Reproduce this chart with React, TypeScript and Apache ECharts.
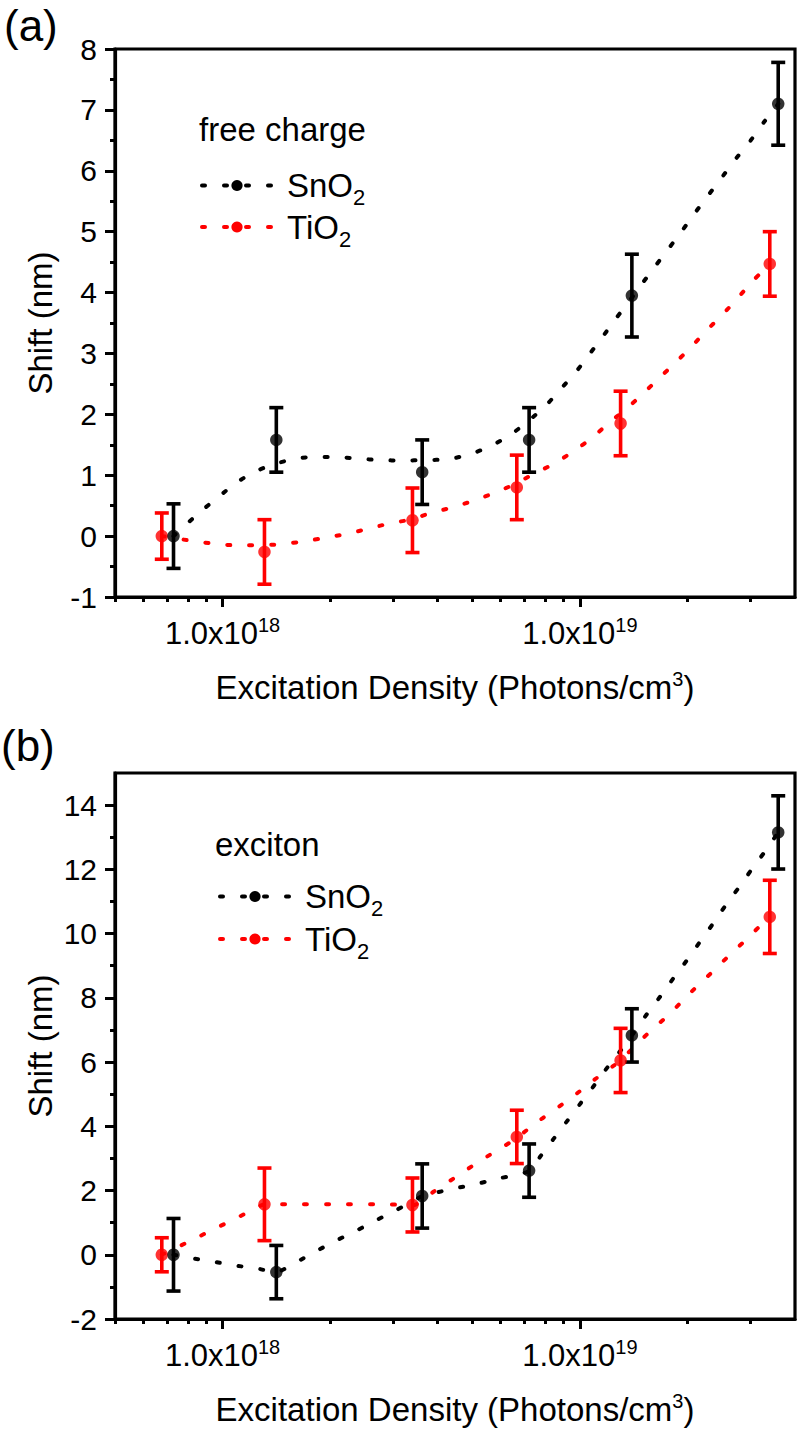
import React, { useEffect, useRef } from 'react';
import * as echarts from 'echarts';

// ---- data ----
const densitySnO2 = [7.29e17, 1.414e18, 3.62e18, 7.21e18, 1.398e19, 3.59e19];
const densityTiO2 = [6.76e17, 1.31e18, 3.4e18, 6.66e18, 1.3e19, 3.4e19];

const shiftSnO2Free = [0, 1.58, 1.05, 1.58, 3.95, 7.1];
const errSnO2Free = [0.53, 0.53, 0.53, 0.53, 0.68, 0.68];
const shiftTiO2Free = [0, -0.26, 0.26, 0.8, 1.85, 4.47];
const errTiO2Free = [0.38, 0.53, 0.53, 0.53, 0.53, 0.53];

const shiftSnO2Exc = [0, -0.54, 1.83, 2.62, 6.83, 13.15];
const errSnO2Exc = [1.13, 0.83, 1.0, 0.83, 0.83, 1.14];
const shiftTiO2Exc = [0, 1.57, 1.55, 3.67, 6.05, 10.52];
const errTiO2Exc = [0.53, 1.13, 0.84, 0.83, 1.0, 1.14];

// dotted guide curves
const curveSnO2Free = [
  [7.29e17, 0], [8.63e17, 0.39], [1.073e18, 0.84], [1.204e18, 1.03], [1.36e18, 1.16],
  [1.567e18, 1.26], [1.793e18, 1.3], [2.064e18, 1.3], [2.403e18, 1.27], [2.774e18, 1.25],
  [3.187e18, 1.24], [3.7e18, 1.25], [4.25e18, 1.26], [4.885e18, 1.34], [5.615e18, 1.475],
  [6.41e18, 1.67], [7.21e18, 1.9], [8.075e18, 2.16], [8.85e18, 2.42], [9.73e18, 2.69],
  [1.061e19, 2.98], [1.157e19, 3.27], [1.26e19, 3.57], [1.372e19, 3.85], [1.495e19, 4.15],
  [1.628e19, 4.44], [1.781e19, 4.74], [1.94e19, 5.03], [2.113e19, 5.33], [2.302e19, 5.62],
  [2.518e19, 5.92], [2.743e19, 6.21], [3.008e19, 6.5], [3.276e19, 6.8], [3.592e19, 7.1],
];
const curveTiO2Free = [
  [6.76e17, 0], [8.03e17, -0.07], [9.32e17, -0.12], [1.08e18, -0.15], [1.396e18, -0.14],
  [1.625e18, -0.1], [1.887e18, -0.04], [2.187e18, 0.03], [2.518e18, 0.11], [2.894e18, 0.2],
  [3.4e18, 0.28], [3.821e18, 0.38], [4.392e18, 0.47], [5.024e18, 0.58], [5.771e18, 0.71],
  [6.66e18, 0.87], [7.413e18, 1.02], [8.466e18, 1.19], [9.58e18, 1.39], [1.085e19, 1.62],
  [1.2e19, 1.85], [1.349e19, 2.09], [1.508e19, 2.35], [1.67e19, 2.6], [1.859e19, 2.86],
  [2.051e19, 3.11], [2.273e19, 3.39], [2.518e19, 3.65], [2.774e19, 3.92], [3.059e19, 4.2],
  [3.398e19, 4.47],
];
const curveSnO2Exc = [
  [7.29e17, 0], [8.11e17, -0.1], [9.32e17, -0.2], [1.071e18, -0.33], [1.23e18, -0.41],
  [1.408e18, -0.54], [1.608e18, -0.23], [1.827e18, 0.11], [2.078e18, 0.44], [2.377e18, 0.76],
  [2.685e18, 1.07], [3.053e18, 1.38], [3.623e18, 1.83], [3.904e18, 1.92], [4.486e18, 2.07],
  [5.209e18, 2.22], [5.961e18, 2.38], [7.256e18, 2.62], [7.738e18, 3.05], [8.43e18, 3.6],
  [9.22e18, 4.17], [1.005e19, 4.72], [1.096e19, 5.27], [1.195e19, 5.84], [1.307e19, 6.39],
  [1.399e19, 6.83], [1.544e19, 7.51], [1.678e19, 8.04], [1.827e19, 8.61], [1.99e19, 9.16],
  [2.16e19, 9.72], [2.352e19, 10.29], [2.551e19, 10.86], [2.778e19, 11.42], [3.027e19, 12.0],
  [3.297e19, 12.56], [3.592e19, 13.15],
];
const curveTiO2Exc = [
  [6.76e17, 0], [8.36e17, 0.5], [9.5e17, 0.81], [1.08e18, 1.11], [1.228e18, 1.43],
  [1.311e18, 1.57], [1.573e18, 1.57], [2.101e18, 1.57], [2.774e18, 1.57], [3.42e18, 1.55],
  [3.904e18, 1.97], [4.438e18, 2.38], [4.992e18, 2.76], [5.615e18, 3.12], [6.383e18, 3.5],
  [6.707e18, 3.67], [7.787e18, 4.22], [8.74e18, 4.61], [9.83e18, 5.03], [1.101e19, 5.46],
  [1.238e19, 5.87], [1.301e19, 6.05], [1.408e19, 6.44], [1.567e19, 6.94], [1.744e19, 7.4],
  [1.932e19, 7.89], [2.136e19, 8.38], [2.377e19, 8.86], [2.634e19, 9.35], [2.924e19, 9.82],
  [3.241e19, 10.31], [3.398e19, 10.52],
];

// ---- axes ticks ----
const xMin = 5e17;
const xMax = 4e19;
const xMajorTicks = [1e18, 1e19];
const xMinorTicks = [
  5e17, 6e17, 7e17, 8e17, 9e17,
  2e18, 3e18, 4e18, 5e18, 6e18, 7e18, 8e18, 9e18,
  2e19, 3e19, 4e19,
];
const yMajorFree = [-1, 0, 1, 2, 3, 4, 5, 6, 7, 8];
const yMinorFree = [-0.5, 0.5, 1.5, 2.5, 3.5, 4.5, 5.5, 6.5, 7.5];
const yMajorExc = [-2, 0, 2, 4, 6, 8, 10, 12, 14];
const yMinorExc = [-1, 1, 3, 5, 7, 9, 11, 13];

const FONT = '"Liberation Sans", Arial, Helvetica, sans-serif';
const BLACK = '#000000';
const RED = '#ff0000';

function pairs(xs: number[], ys: number[]) {
  return xs.map((x, i) => [x, ys[i]]);
}

function errorBars(name: string, xs: number[], ys: number[], errs: number[], color: string, axis: number) {
  return {
    type: 'custom',
    name,
    xAxisIndex: axis,
    yAxisIndex: axis,
    z: 3,
    silent: true,
    data: xs.map((x, i) => [x, ys[i] - errs[i], ys[i] + errs[i]]),
    encode: { x: 0, y: [1, 2] },
    renderItem: (params: any, api: any) => {
      const x = api.value(0);
      const lo = api.coord([x, api.value(1)]);
      const hi = api.coord([x, api.value(2)]);
      const hw = 7;
      const style = { stroke: color, lineWidth: 3.6, fill: 'none' };
      return {
        type: 'group',
        children: [
          { type: 'line', shape: { x1: lo[0], y1: lo[1], x2: hi[0], y2: hi[1] }, style },
          { type: 'line', shape: { x1: hi[0] - hw, y1: hi[1], x2: hi[0] + hw, y2: hi[1] }, style },
          { type: 'line', shape: { x1: lo[0] - hw, y1: lo[1], x2: lo[0] + hw, y2: lo[1] }, style },
        ],
      };
    },
  };
}

function curve(name: string, data: number[][], color: string, axis: number) {
  return {
    type: 'line',
    name,
    xAxisIndex: axis,
    yAxisIndex: axis,
    data,
    z: 1,
    smooth: 0.25,
    symbol: 'circle',
    symbolSize: 12,
    showSymbol: false,
    silent: true,
    color,
    itemStyle: { color },
    lineStyle: { color, width: 4, type: [3, 19], cap: 'round' },
  };
}

function points(name: string, xs: number[], ys: number[], color: string, axis: number) {
  return {
    type: 'scatter',
    name,
    xAxisIndex: axis,
    yAxisIndex: axis,
    data: pairs(xs, ys),
    z: 4,
    symbol: 'circle',
    symbolSize: 12.5,
    silent: true,
    itemStyle: { color },
  };
}

const xLabelRich = {
  b: { fontSize: 31, lineHeight: 36, fontFamily: FONT, color: BLACK },
  s: { fontSize: 20, lineHeight: 20, verticalAlign: 'top', fontFamily: FONT, color: BLACK },
};
const titleRich = {
  t: { fontSize: 33, lineHeight: 36, fontFamily: FONT, color: BLACK },
  s: { fontSize: 20, lineHeight: 20, verticalAlign: 'top', fontFamily: FONT, color: BLACK },
};
const legendRich = {
  n: { fontSize: 33, lineHeight: 46, fontFamily: FONT, color: BLACK, padding: [0, 0, 0, 10] },
  s: { fontSize: 22, lineHeight: 21, verticalAlign: 'bottom', fontFamily: FONT, color: BLACK },
};

function makeXAxis(gridIndex: number, main: boolean) {
  return {
    type: 'log',
    logBase: 10,
    gridIndex,
    min: xMin,
    max: xMax,
    position: 'bottom',
    offset: 0,
    splitLine: { show: false },
    minorTick: { show: false },
    minorSplitLine: { show: false },
    axisLine: { show: main, onZero: false, lineStyle: { color: BLACK, width: 3.2 } },
    axisTick: {
      show: true,
      inside: false,
      customValues: main ? xMajorTicks : xMinorTicks,
      length: main ? 10 : 5,
      lineStyle: { color: BLACK, width: 3 },
    },
    axisLabel: main
      ? {
          show: true,
          customValues: xMajorTicks,
          margin: 18,
          formatter: (v: number) => '{b|1.0x10}{s|' + Math.round(Math.log10(v)) + '}',
          rich: xLabelRich,
          color: BLACK,
        }
      : { show: false },
    name: main ? '{t|Excitation Density (Photons/cm}{s|3}{t|)}' : '',
    nameLocation: 'middle',
    nameGap: 90,
    nameMoveOverlap: false,
    nameTextStyle: { verticalAlign: 'middle', rich: titleRich, color: BLACK },
  };
}

function makeYAxis(gridIndex: number, main: boolean, min: number, max: number, interval: number, major: number[], minor: number[]) {
  return {
    type: 'value',
    gridIndex,
    min,
    max,
    interval,
    position: 'left',
    offset: 0,
    splitLine: { show: false },
    minorTick: { show: false },
    minorSplitLine: { show: false },
    axisLine: { show: main, onZero: false, lineStyle: { color: BLACK, width: 3.2 } },
    axisTick: {
      show: true,
      inside: false,
      customValues: main ? major : minor,
      length: main ? 10 : 5,
      lineStyle: { color: BLACK, width: 3 },
    },
    axisLabel: main
      ? {
          show: true,
          customValues: major,
          margin: 18,
          fontSize: 30,
          fontFamily: FONT,
          color: BLACK,
        }
      : { show: false },
    name: main ? 'Shift (nm)' : '',
    nameLocation: 'middle',
    nameRotate: 90,
    nameGap: 75,
    nameMoveOverlap: false,
    nameTextStyle: { verticalAlign: 'middle', fontSize: 33, fontFamily: FONT, color: BLACK },
  };
}

function makeLegend(left: number, top: number, gap: number) {
  return {
    show: true,
    orient: 'vertical',
    left,
    top,
    padding: 0,
    itemGap: gap,
    itemWidth: 70,
    itemHeight: 14,
    selectedMode: false,
    data: ['SnO2', 'TiO2'],
    formatter: (name: string) => '{n|' + name.replace('2', '') + '}{s|2}',
    textStyle: { color: BLACK, fontFamily: FONT, fontSize: 33, rich: legendRich },
    lineStyle: { width: 4, type: [3, 19], cap: 'round' },
  };
}

export default function App() {
  const ref = useRef<HTMLDivElement>(null);

  useEffect(() => {
    document.body.style.margin = '0';
    if (!ref.current) return;
    const chart = echarts.init(ref.current, null, { renderer: 'svg' });
    const gridBase = {
      left: 115,
      width: 680,
      show: true,
      borderColor: BLACK,
      borderWidth: 3.2,
      backgroundColor: 'transparent',
      containLabel: false,
      outerBoundsMode: 'none',
    };
    chart.setOption({
      animation: false,
      backgroundColor: '#ffffff',
      textStyle: { fontFamily: FONT, color: BLACK },
      grid: [
        { ...gridBase, top: 49, height: 548 },
        { ...gridBase, top: 773, height: 546 },
      ],
      xAxis: [makeXAxis(0, true), makeXAxis(0, false), makeXAxis(1, true), makeXAxis(1, false)],
      yAxis: [
        makeYAxis(0, true, -1, 8, 1, yMajorFree, yMinorFree),
        makeYAxis(0, false, -1, 8, 1, yMajorFree, yMinorFree),
        makeYAxis(1, true, -2, 15, 2, yMajorExc, yMinorExc),
        makeYAxis(1, false, -2, 15, 2, yMajorExc, yMinorExc),
      ],
      legend: [makeLegend(200, 169, 2), makeLegend(218, 880, 3)],
      graphic: [
        { type: 'text', x: 4, y: 25, style: { text: '(a)', fontSize: 44, fontFamily: FONT, fill: BLACK, verticalAlign: 'middle', align: 'left' } },
        { type: 'text', x: 1, y: 745, style: { text: '(b)', fontSize: 44, fontFamily: FONT, fill: BLACK, verticalAlign: 'middle', align: 'left' } },
        { type: 'text', x: 199, y: 129, style: { text: 'free charge', fontSize: 33, fontFamily: FONT, fill: BLACK, verticalAlign: 'middle', align: 'left' } },
        { type: 'text', x: 215, y: 844, style: { text: 'exciton', fontSize: 33, fontFamily: FONT, fill: BLACK, verticalAlign: 'middle', align: 'left' } },
      ],
      series: [
        curve('TiO2', curveTiO2Free, RED, 0),
        curve('SnO2', curveSnO2Free, BLACK, 0),
        errorBars('TiO2 error (a)', densityTiO2, shiftTiO2Free, errTiO2Free, RED, 0),
        points('TiO2 data (a)', densityTiO2, shiftTiO2Free, RED, 0),
        errorBars('SnO2 error (a)', densitySnO2, shiftSnO2Free, errSnO2Free, BLACK, 0),
        points('SnO2 data (a)', densitySnO2, shiftSnO2Free, BLACK, 0),

        curve('TiO2', curveTiO2Exc, RED, 2),
        curve('SnO2', curveSnO2Exc, BLACK, 2),
        errorBars('TiO2 error (b)', densityTiO2, shiftTiO2Exc, errTiO2Exc, RED, 2),
        points('TiO2 data (b)', densityTiO2, shiftTiO2Exc, RED, 2),
        errorBars('SnO2 error (b)', densitySnO2, shiftSnO2Exc, errSnO2Exc, BLACK, 2),
        points('SnO2 data (b)', densitySnO2, shiftSnO2Exc, BLACK, 2),
      ],
    });
    return () => chart.dispose();
  }, []);

  return <div ref={ref} style={{ width: 801, height: 1431 }} />;
}
